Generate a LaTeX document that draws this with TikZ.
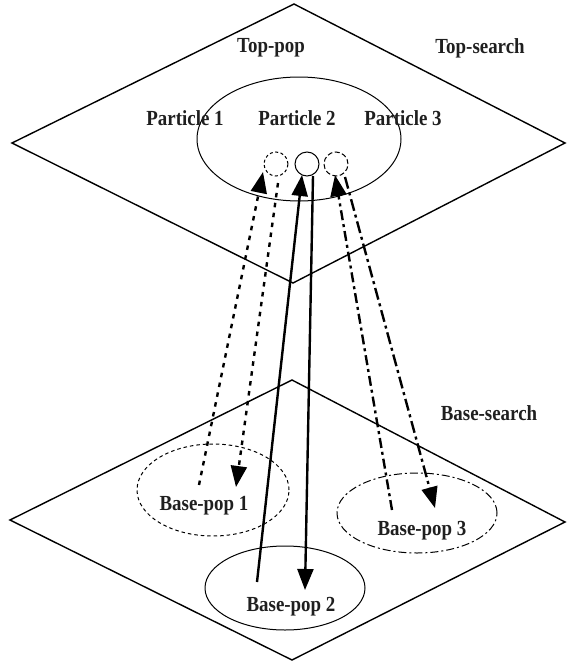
\documentclass[tikz,border=0pt]{standalone}
\usepackage{fontspec}
\setmainfont{Liberation Serif}[FakeStretch=0.88]
\usetikzlibrary{arrows.meta,shapes.geometric}
\begin{document}
\begin{tikzpicture}[x=1pt,y=-1pt,
  plane/.style={line width=1.4pt, line join=miter},
  lbl/.style={font=\fontsize{21.5}{24}\selectfont\bfseries, inner sep=0pt, text=black!88},
  pop/.style={ellipse, draw, line width=1pt, inner sep=0pt},
  part/.style={circle, draw, line width=1pt, minimum size=24pt, inner sep=0pt},
  arr/.style={line width=2.4pt, -{Triangle[length=21pt,width=16pt]}},
  dotl/.style={dash pattern=on 4.5pt off 5.5pt},
  dashdotl/.style={dash pattern=on 10pt off 4pt on 3pt off 4pt},
  longdash/.style={dash pattern=on 12pt off 4pt on 3pt off 4pt}]
\useasboundingbox (0,0) rectangle (566,664);

% planes
\draw[plane] (294,4) -- (565,143) -- (293,283) -- (12,143) -- cycle;
\draw[plane] (292,380) -- (565,522) -- (292,660) -- (10,520) -- cycle;

% top population
\node[pop, minimum width=204pt, minimum height=124pt] (toppop) at (299,139) {};
\node[lbl] (ttop) at (271,48) {Top-pop};
\node[lbl] (tsearch) at (480,48) {Top-search};
\node[lbl] (tp1) at (185,118) {Particle 1};
\node[lbl] (tp2) at (297,118) {Particle 2};
\node[lbl] (tp3) at (403,118) {Particle 3};

\node[part, dash pattern=on 3pt off 2.5pt] (p1) at (276,164) {};
\node[part] (p2) at (307,164) {};
\node[part, dash pattern=on 5pt off 2.5pt] (p3) at (336,164) {};

% base populations
\node[pop, dash pattern=on 3.5pt off 3pt, minimum width=152pt, minimum height=92pt] (b1) at (213,490) {};
\node[pop, minimum width=160pt, minimum height=84pt] (b2) at (285,588) {};
\node[pop, dash pattern=on 8pt off 3pt on 2pt off 3pt, minimum width=160pt, minimum height=80pt] (b3) at (417,513) {};
\node[lbl] (tb1) at (204,506) {Base-pop 1};
\node[lbl] (tb2) at (291,607) {Base-pop 2};
\node[lbl] (tb3) at (422,531) {Base-pop 3};
\node[lbl] (tbs) at (489,413) {Base-search};

% arrow end points
\coordinate (a1s) at (199,485);
\coordinate (a1e) at (263,172);
\coordinate (d1s) at (278,183);
\coordinate (d1e) at (236,487);
\coordinate (a2s) at (257,582);
\coordinate (a2e) at (302,175);
\coordinate (d2s) at (313,176);
\coordinate (d2e) at (305,590);
\coordinate (a3s) at (392,510);
\coordinate (a3e) at (335,175);
\coordinate (d3s) at (345,177);
\coordinate (d3e) at (435,508);

% connectors
\draw[arr, dotl] (a1s) -- (a1e);
\draw[arr, dotl] (d1s) -- (d1e);
\draw[arr] (a2s) -- (a2e);
\draw[arr] (d2s) -- (d2e);
\draw[arr, dashdotl] (a3s) -- (a3e);
\draw[arr, longdash] (d3s) -- (d3e);
\end{tikzpicture}
\end{document}
